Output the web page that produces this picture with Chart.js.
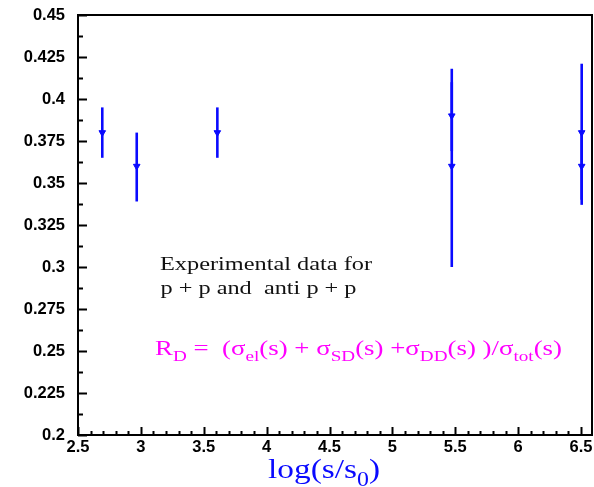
<!DOCTYPE html>
<html>
<head>
<meta charset="utf-8">
<script src="https://cdn.jsdelivr.net/npm/chart.js@4"></script>
<style>
  html, body { margin: 0; padding: 0; background: #fff; }
  #wrap { width: 594px; height: 487px; position: relative; }
</style>
</head>
<body>
<div id="wrap"><canvas id="c" width="594" height="487"></canvas></div>
<script>
// ---- data ----
const xValues   = [2.693, 2.967, 3.608, 5.472, 5.472, 6.505, 6.505];
const yValues   = [0.380, 0.360, 0.380, 0.390, 0.360, 0.380, 0.360];
const errUp     = [0.015, 0.020, 0.015, 0.020, 0.058, 0.041, 0.020];
const errDown   = [0.015, 0.021, 0.015, 0.021, 0.060, 0.043, 0.020];
const xTickLabels = [2.5, 3, 3.5, 4, 4.5, 5, 5.5, 6, 6.5];
const yTickLabels = [0.2, 0.225, 0.25, 0.275, 0.3, 0.325, 0.35, 0.375, 0.4, 0.425, 0.45];

const BLUE = '#0a0aff';

const points = xValues.map((x, i) => ({ x: x, y: yValues[i] }));

const errorBars = {
  id: 'errorBars',
  beforeDatasetsDraw(chart) {
    const { ctx, scales: { x, y } } = chart;
    ctx.save();
    ctx.strokeStyle = BLUE;
    ctx.lineWidth = 2.6;
    ctx.lineCap = 'butt';
    xValues.forEach((xv, i) => {
      const px = x.getPixelForValue(xv);
      ctx.beginPath();
      ctx.moveTo(px, y.getPixelForValue(yValues[i] + errUp[i]));
      ctx.lineTo(px, y.getPixelForValue(yValues[i] - errDown[i]));
      ctx.stroke();
    });
    ctx.restore();
  }
};

const frameTicks = {
  id: 'frameTicks',
  afterDraw(chart) {
    const { ctx, chartArea: a, scales: { x, y } } = chart;
    ctx.save();
    ctx.strokeStyle = '#000';
    ctx.lineWidth = 2;
    ctx.strokeRect(a.left, a.top, a.right - a.left, a.bottom - a.top);
    ctx.beginPath();
    for (let k = 25; k <= 65; k++) {
      const v = k / 10;
      const px = Math.round(x.getPixelForValue(v)) + 0.5;
      const major = (k % 5 === 0);
      ctx.moveTo(px, a.bottom);
      ctx.lineTo(px, a.bottom - (major ? 8 : 4));
    }
    for (let k = 0; k <= 20; k++) {
      const v = 0.2 + k * 0.0125;
      const py = Math.round(y.getPixelForValue(v)) + 0.5;
      const major = (k % 2 === 0);
      ctx.moveTo(a.left, py);
      ctx.lineTo(a.left + (major ? 9 : 5), py);
    }
    ctx.stroke();
    ctx.restore();
  }
};

function drawRich(ctx, parts, x, baseline, font, subFont, subDy, color, targetW) {
  ctx.save();
  let total = 0;
  parts.forEach(p => { ctx.font = p.sub ? subFont : font; total += ctx.measureText(p.t).width; });
  const sx = targetW ? targetW / total : 1;
  ctx.translate(x, baseline);
  ctx.scale(sx, 1);
  ctx.fillStyle = color;
  ctx.textBaseline = 'alphabetic';
  ctx.textAlign = 'left';
  let cx = 0;
  parts.forEach(p => {
    ctx.font = p.sub ? subFont : font;
    ctx.fillText(p.t, cx, p.sub ? subDy : 0);
    cx += ctx.measureText(p.t).width;
  });
  ctx.restore();
}

const annotations = {
  id: 'annotations',
  afterDraw(chart) {
    const ctx = chart.ctx;
    const serif = '"Liberation Serif", "DejaVu Serif", serif';
    drawRich(ctx, [{ t: 'Experimental data for' }], 160, 269.5, '19px ' + serif, '', 0, '#111', 212);
    drawRich(ctx, [{ t: 'p + p and  anti p + p' }], 160.5, 294, '19px ' + serif, '', 0, '#111', 196);
    drawRich(ctx, [
      { t: 'R' }, { t: 'D', sub: true }, { t: ' =  (' },
      { t: 'σ' }, { t: 'el', sub: true }, { t: '(s) + ' },
      { t: 'σ' }, { t: 'SD', sub: true }, { t: '(s) +' },
      { t: 'σ' }, { t: 'DD', sub: true }, { t: '(s) )/' },
      { t: 'σ' }, { t: 'tot', sub: true }, { t: '(s)' }
    ], 155, 355, '21px ' + serif, '15px ' + serif, 6, '#ff00ff', 407);
    drawRich(ctx, [{ t: 'log(s/s' }, { t: '0', sub: true }, { t: ')' }],
      268, 477.5, '28px ' + serif, '20px ' + serif, 8, BLUE, 112);
  }
};

const tickFont = { family: '"Liberation Sans", Arial, sans-serif', size: 16.5, weight: 'bold' };

function noPad(s) {
  s.paddingTop = 0; s.paddingBottom = 0; s.paddingLeft = 0; s.paddingRight = 0;
}

new Chart(document.getElementById('c'), {
  type: 'scatter',
  data: {
    datasets: [{
      data: points,
      pointStyle: 'triangle',
      rotation: 180,
      radius: 3.8,
      borderWidth: 1,
      backgroundColor: BLUE,
      borderColor: BLUE,
      showLine: false
    }]
  },
  options: {
    responsive: false,
    animation: false,
    events: [],
    layout: { autoPadding: false, padding: { top: 15, right: 2, left: 0, bottom: 0 } },
    plugins: { legend: { display: false }, tooltip: { enabled: false } },
    scales: {
      x: {
        type: 'linear',
        min: 2.5,
        max: 6.587,
        grid: { display: false, drawTicks: false },
        border: { display: false },
        afterBuildTicks: s => { s.ticks = xTickLabels.map(v => ({ value: v })); },
        afterFit: s => { s.height = 52; noPad(s); },
        ticks: {
          autoSkip: false,
          maxRotation: 0,
          padding: 3,
          color: '#000',
          font: tickFont,
          callback: v => String(v)
        }
      },
      y: {
        type: 'linear',
        min: 0.2,
        max: 0.45,
        grid: { display: false, drawTicks: false },
        border: { display: false },
        afterBuildTicks: s => { s.ticks = yTickLabels.map(v => ({ value: v })); },
        afterFit: s => { s.width = 78; noPad(s); },
        ticks: {
          autoSkip: false,
          padding: 13,
          color: '#000',
          font: tickFont,
          callback: v => String(+v.toFixed(3))
        }
      }
    }
  },
  plugins: [errorBars, frameTicks, annotations]
});
</script>
</body>
</html>
